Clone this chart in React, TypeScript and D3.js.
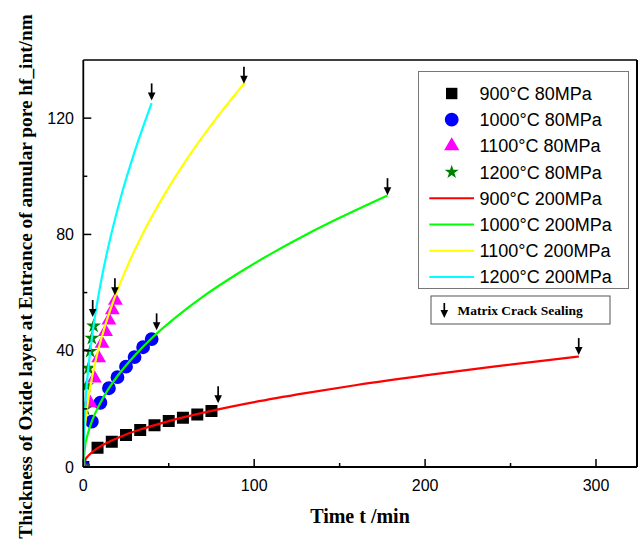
import React from "react";
import * as d3 from "d3";

// ---- data ----
const sq900T = [0, 8.33, 16.67, 25, 33.3, 41.67, 50, 58.3, 66.7, 75];
const sq900Y = [0, 6.6, 8.7, 11, 12.7, 14.4, 15.8, 16.9, 18.1, 19.3];

const ci1000T = [0, 5, 10, 15, 20, 25, 30, 35, 40];
const ci1000Y = [0, 15.6, 22.1, 27.1, 30.9, 34.5, 37.8, 41.2, 44];

const tr1100T = [0, 4, 6.5, 9, 11, 13, 15, 17, 18.8];
const tr1100Y = [0, 22, 30.5, 37.5, 42.5, 46.5, 50.5, 54, 57.3];

const st1200T = [0, 1, 2, 3, 4, 5, 6];
const st1200Y = [0, 20, 28, 34, 39.8, 44.3, 48.5];

const ln900T = [0, 1, 3, 6, 10, 17, 25, 35, 50, 75, 100, 130, 160, 200, 240, 290];
const ln900Y = [0, 2.2, 3.9, 5.5, 7.1, 9.2, 11.2, 13.2, 15.8, 19.3, 22.3, 25.4, 28.2, 31.5, 34.5, 38];

const ln1000T = [0, 1, 2.5, 5, 10, 15, 20, 30, 40, 55, 70, 90, 110, 130, 150, 178];
const ln1000Y = [0, 7, 11.1, 15.7, 22.1, 27.1, 31.3, 38.3, 44.3, 51.9, 58.6, 66.4, 73.4, 79.8, 85.7, 93.4];

const ln1100T = [0, 0.5, 1.5, 3, 5, 8, 12, 17, 25, 35, 48, 62, 78, 94.5];
const ln1100Y = [0, 9.6, 16.7, 23.6, 30.4, 38.5, 47.1, 56.1, 68, 80.5, 94.2, 107.1, 120.1, 132.2];

const ln1200T = [0, 0.3, 1, 2, 4, 7, 11, 16, 22, 30, 40];
const ln1200Y = [0, 10.8, 19.8, 28, 39.6, 52.4, 65.7, 79.2, 92.9, 108.4, 125.2];

// sealing arrows (tip position)
const arrowT = [78.9, 42.9, 18.5, 5.5, 40, 94, 178, 289.9];
const arrowY = [21.9, 47, 59.1, 51.6, 126.1, 131.8, 93.5, 38.5];

const xTicks = [0, 100, 200, 300];
const xMinor = [50, 150, 250];
const yTicks = [0, 40, 80, 120];
const yMinor = [20, 60, 100];

const scatterLabels = ["900°C 80MPa", "1000°C 80MPa", "1100°C 80MPa", "1200°C 80MPa"];
const lineLabels = ["900°C 200MPa", "1000°C 200MPa", "1100°C 200MPa", "1200°C 200MPa"];

const W = 641;
const H = 540;
const L = 83.3;
const R = 637;
const T = 60;
const B = 467;

const x = d3.scaleLinear().domain([0, 324]).range([L, R]);
const y = d3.scaleLinear().domain([0, 140]).range([B, T]);

const sansFont = "'Liberation Sans', Arial, sans-serif";
const serifFont = "'Liberation Serif', 'Times New Roman', serif";

const zip = (a: number[], b: number[]) => a.map((v, i) => [v, b[i]] as [number, number]);

const scatterSeries = [
  { pts: zip(sq900T, sq900Y), type: d3.symbolSquare, size: 144, color: "#000000", lsize: 130 },
  { pts: zip(ci1000T, ci1000Y), type: d3.symbolCircle, size: 150, color: "#0000ff", lsize: 150 },
  { pts: zip(tr1100T, tr1100Y), type: d3.symbolTriangle, size: 95, color: "#ff00ff", lsize: 100 },
  { pts: zip(st1200T, st1200Y), type: d3.symbolStar, size: 68, color: "#008000", lsize: 60 },
];

const lineSeries = [
  { pts: zip(ln900T, ln900Y), color: "#ff0000" },
  { pts: zip(ln1000T, ln1000Y), color: "#00ff00" },
  { pts: zip(ln1100T, ln1100Y), color: "#ffff00" },
  { pts: zip(ln1200T, ln1200Y), color: "#00ffff" },
];

const lineGen = d3
  .line<[number, number]>()
  .x((d) => x(d[0]))
  .y((d) => y(d[1]))
  .curve(d3.curveMonotoneX);

function Arrow({ px, py, len = 17 }: { px: number; py: number; len?: number }) {
  return (
    <g>
      <line x1={px} y1={py - len} x2={px} y2={py - 5} stroke="#000" strokeWidth={1.7} />
      <path d={`M${px - 3.8},${py - 8} L${px + 3.8},${py - 8} L${px},${py} Z`} fill="#000" />
    </g>
  );
}

export default function App() {
  const legendX = 418.5;
  const legendY = 71.5;
  const legendW = 210;
  const legendH = 217;
  const rowY0 = 93.5;
  const rowStep = 26.2;
  const symX = 451.7;
  const textX = 479.5;

  return (
    <svg
      width={W}
      height={H}
      style={{ position: "absolute", left: 0, top: 0, background: "#fff" }}
      xmlns="http://www.w3.org/2000/svg"
    >
      <rect x={0} y={0} width={W} height={H} fill="#fff" />
      <defs>
        <clipPath id="plotclip">
          <rect x={L} y={T} width={R - L} height={B - T} />
        </clipPath>
      </defs>

      {/* scatter markers */}
      <g clipPath="url(#plotclip)">
        {scatterSeries.map((s, i) =>
          s.pts.map((p, j) => (
            <path
              key={`s${i}-${j}`}
              d={d3.symbol().type(s.type).size(s.size)() || ""}
              transform={`translate(${x(p[0])},${y(p[1])})`}
              fill={s.color}
            />
          ))
        )}
        {/* fitted lines */}
        {lineSeries.map((s, i) => (
          <path key={`l${i}`} d={lineGen(s.pts) || ""} fill="none" stroke={s.color} strokeWidth={2.2} />
        ))}
      </g>

      {/* arrows */}
      {arrowT.map((t, i) => (
        <Arrow key={`a${i}`} px={x(t)} py={y(arrowY[i])} />
      ))}

      {/* frame */}
      <line x1={L} y1={T} x2={R} y2={T} stroke="#000" strokeWidth={1.6} />
      <line x1={R} y1={T} x2={R} y2={B} stroke="#000" strokeWidth={2} />
      <line x1={L} y1={B} x2={R} y2={B} stroke="#000" strokeWidth={1.8} />
      <line x1={L} y1={T} x2={L} y2={B} stroke="#000" strokeWidth={1.8} />

      {/* x ticks */}
      {xTicks.map((t) => (
        <g key={`xt${t}`}>
          <line x1={x(t)} y1={B} x2={x(t)} y2={B - 8} stroke="#000" strokeWidth={1.5} />
          <text x={x(t)} y={B + 24} textAnchor="middle" fontFamily={sansFont} fontSize={16} fill="#000">
            {t}
          </text>
        </g>
      ))}
      {xMinor.map((t) => (
        <line key={`xm${t}`} x1={x(t)} y1={B} x2={x(t)} y2={B - 4} stroke="#000" strokeWidth={1.5} />
      ))}

      {/* y ticks */}
      {yTicks.map((t) => (
        <g key={`yt${t}`}>
          <line x1={L} y1={y(t)} x2={L + 8} y2={y(t)} stroke="#000" strokeWidth={1.5} />
          <text
            x={74}
            y={y(t)}
            dy="0.36em"
            textAnchor="end"
            fontFamily={sansFont}
            fontSize={16}
            fill="#000"
          >
            {t}
          </text>
        </g>
      ))}
      {yMinor.map((t) => (
        <line key={`ym${t}`} x1={L} y1={y(t)} x2={L + 4} y2={y(t)} stroke="#000" strokeWidth={1.5} />
      ))}

      {/* axis titles */}
      <text
        x={360}
        y={523}
        textAnchor="middle"
        fontFamily={serifFont}
        fontWeight="bold"
        fontSize={20}
        fill="#000"
      >
        Time t /min
      </text>
      <text
        transform={`translate(32,276.5) rotate(-90)`}
        textAnchor="middle"
        fontFamily={serifFont}
        fontWeight="bold"
        fontSize={19.3}
        fill="#000"
      >
        Thickness of Oxide layer at Entrance of annular pore hf_int/nm
      </text>

      {/* legend */}
      <rect x={legendX} y={legendY} width={legendW} height={legendH} fill="#fff" stroke="#777" strokeWidth={1} />
      {scatterSeries.map((s, i) => (
        <g key={`lg${i}`}>
          <path
            d={d3.symbol().type(s.type).size(s.lsize)() || ""}
            transform={`translate(${symX},${rowY0 + i * rowStep})`}
            fill={s.color}
          />
          <text x={textX} y={rowY0 + i * rowStep + 6.4} fontFamily={sansFont} fontSize={18} fill="#000">
            {scatterLabels[i]}
          </text>
        </g>
      ))}
      {lineSeries.map((s, i) => {
        const yy = rowY0 + (i + 4) * rowStep;
        return (
          <g key={`lgl${i}`}>
            <line x1={429.3} y1={yy} x2={474} y2={yy} stroke={s.color} strokeWidth={2} />
            <text x={textX} y={yy + 6.4} fontFamily={sansFont} fontSize={18} fill="#000">
              {lineLabels[i]}
            </text>
          </g>
        );
      })}

      {/* sealing legend */}
      <rect x={431} y={296} width={179} height={28} fill="#fff" stroke="#555" strokeWidth={1} />
      <Arrow px={444.3} py={318} len={15} />
      <text x={457.5} y={314.5} fontFamily={serifFont} fontWeight="bold" fontSize={13.5} fill="#000">
        Matrix Crack Sealing
      </text>
    </svg>
  );
}
